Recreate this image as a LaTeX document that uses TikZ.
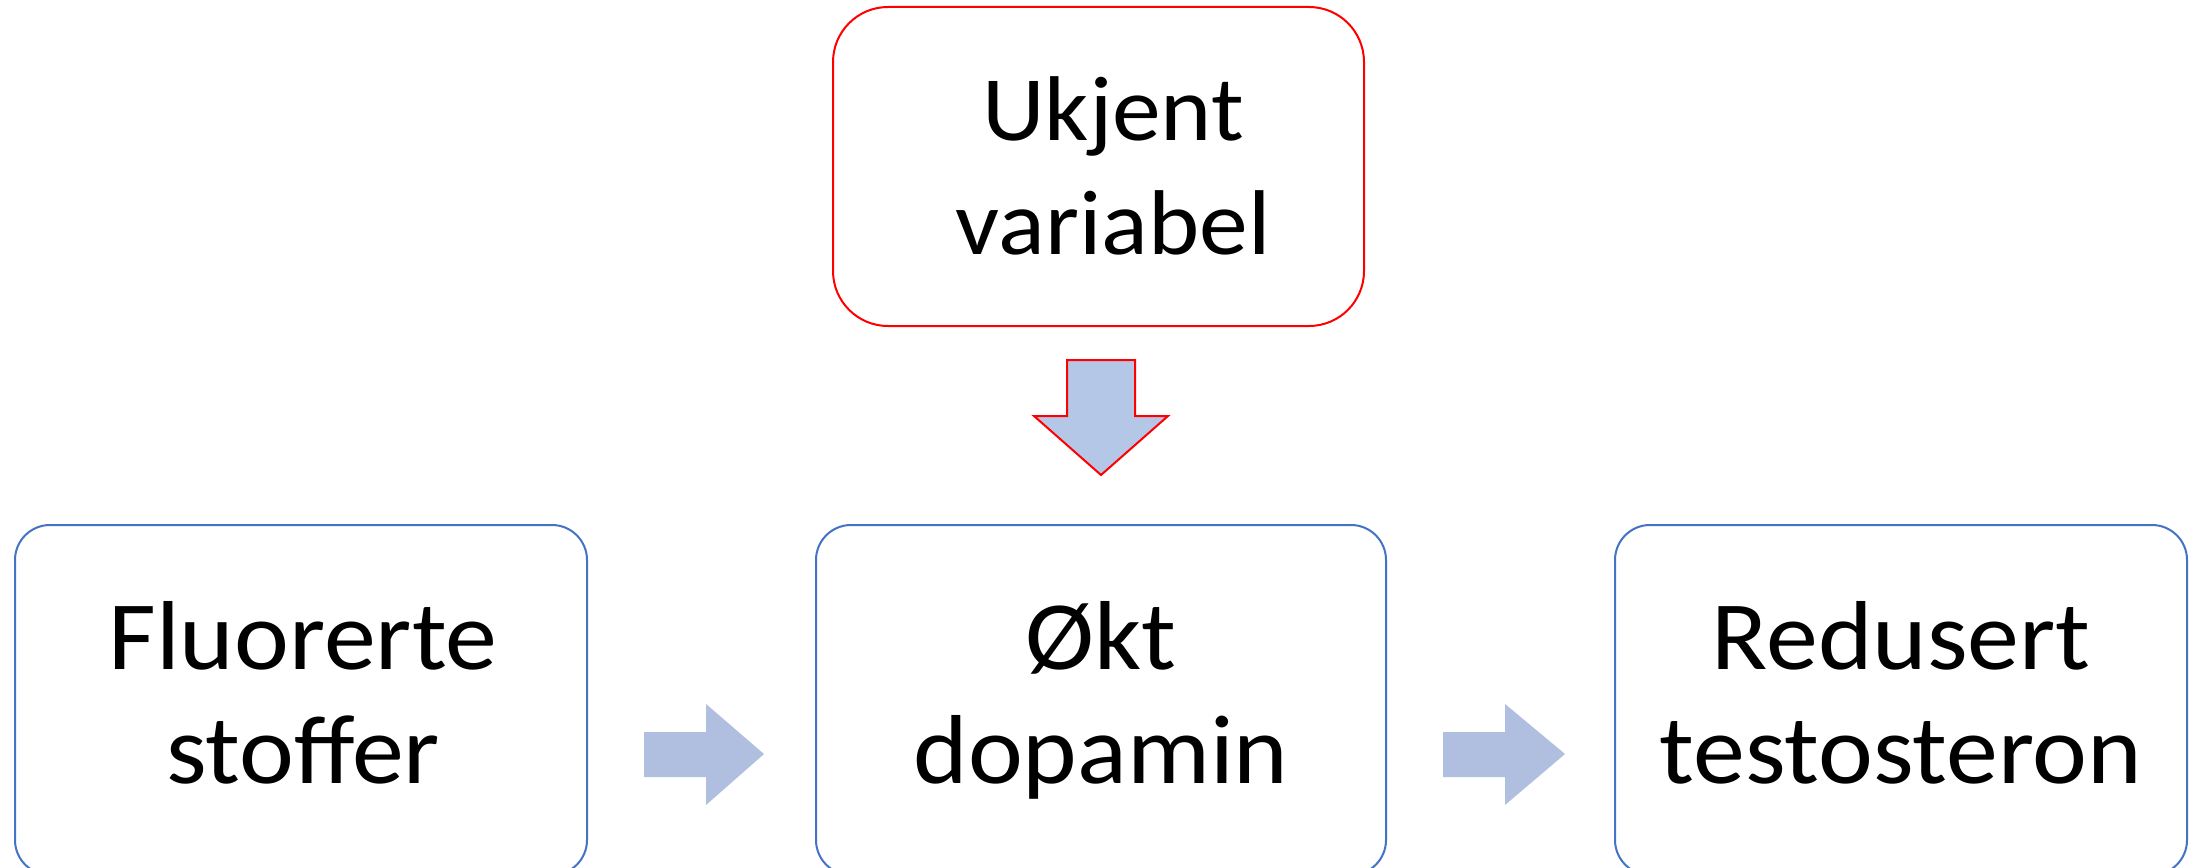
\documentclass[tikz,border=0pt]{standalone}
\usepackage{fontspec}
\setmainfont{Carlito}[FakeStretch=1.06]
\definecolor{redline}{RGB}{255,0,0}
\definecolor{blueline}{RGB}{68,114,196}
\definecolor{downfill}{RGB}{180,199,231}
\definecolor{rightfill}{RGB}{176,190,224}
\begin{document}
\begin{tikzpicture}[x=1pt,y=-1pt,
  redbox/.style={draw=redline, line width=2pt, rounded corners=55pt, inner sep=0pt},
  bluebox/.style={draw=blueline, line width=2pt, rounded corners=35pt, inner sep=0pt, minimum width=572pt, minimum height=350pt},
  lbl/.style={font=\fontsize{98}{114}\selectfont, align=center, anchor=base, inner sep=0pt},
  toplbl/.style={lbl, font=\fontsize{92}{114}\selectfont},
  downarrow/.style={draw=redline, line width=2pt, fill=downfill, line join=miter},
  rightarrow/.style={fill=rightfill, draw=none}]
\useasboundingbox (0,0) rectangle (2191,867);
\clip (0,0) rectangle (2191,867);
\fill[white] (0,0) rectangle (2191,867);
% boxes
\node[redbox, minimum width=531pt, minimum height=319pt] (uk) at (1098.5,166.5) {};
\node[bluebox] (fl) at (301,700) {};
\node[bluebox, minimum width=570pt] (dp) at (1101,700) {};
\node[bluebox] (rt) at (1901,700) {};
% texts (base anchor = baseline of last line)
\node[toplbl] (ukt) at (1113,254) {Ukjent\\variabel};
\node[lbl] (flt) at (303,783) {Fluorerte\\stoffer};
\node[lbl] (dpt) at (1101,783) {Økt\\dopamin};
\node[lbl] (rtt) at (1901,783) {Redusert\\testosteron};
% block arrows
\draw[downarrow] (1067,360) -- (1135,360) -- (1135,416) -- (1168,416) -- (1101,475) -- (1034,416) -- (1067,416) -- cycle;
\fill[rightarrow] (644,732) -- (706,732) -- (706,704) -- (764,754) -- (706,805) -- (706,777) -- (644,777) -- cycle;
\fill[rightarrow] (1443,732) -- (1505,732) -- (1505,704) -- (1565,754) -- (1505,805) -- (1505,777) -- (1443,777) -- cycle;
\end{tikzpicture}
\end{document}
